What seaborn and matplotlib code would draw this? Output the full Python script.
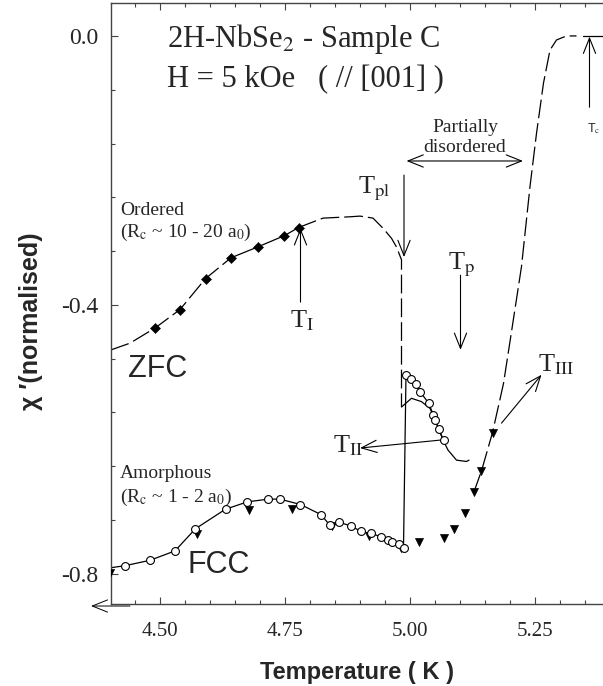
import numpy as np
import pandas as pd
import matplotlib
matplotlib.use("Agg")
import matplotlib.pyplot as plt
from matplotlib.ticker import MultipleLocator, FormatStrFormatter
import seaborn as sns

# ZFC data points (filled diamonds)
zfc_T = [4.491, 4.540, 4.591, 4.642, 4.695, 4.749, 4.777]
zfc_chi = [-0.434, -0.407, -0.361, -0.330, -0.314, -0.297, -0.285]

# ZFC dashed guide curve (left part, up to the peak-effect dip)
zfc_lo_T = [4.402, 4.440, 4.491, 4.540, 4.591, 4.642]
zfc_lo_chi = [-0.467, -0.457, -0.434, -0.407, -0.361, -0.330]
zfc_mid_T = [4.642, 4.695, 4.749, 4.777]
zfc_mid_chi = [-0.330, -0.314, -0.297, -0.285]
zfc_hi_T = [4.777, 4.826, 4.880, 4.900, 4.926, 4.946, 4.963, 4.973, 4.983, 4.983]
zfc_hi_chi = [-0.285, -0.271, -0.269, -0.268, -0.271, -0.286, -0.301, -0.314, -0.333, -0.552]

# ZFC measured wiggle after Tpl
zfc_dip_T = [4.983, 5.003, 5.023, 5.040, 5.053, 5.066, 5.076, 5.093, 5.113, 5.118]
zfc_dip_chi = [-0.552, -0.539, -0.544, -0.554, -0.576, -0.601, -0.616, -0.631, -0.633, -0.631]

# ZFC rise towards Tc
zfc_up_T = [5.128, 5.143, 5.165, 5.187, 5.203, 5.223, 5.240, 5.253, 5.267, 5.280, 5.293, 5.313, 5.333]
zfc_up_chi = [-0.678, -0.647, -0.590, -0.517, -0.440, -0.343, -0.224, -0.145, -0.070, -0.021, -0.006, 0.0, 0.0]
tc_T = [5.346, 5.386]
tc_chi = [0.0, 0.0]

# FCC open circles (lower branch)
fcc_T = [4.430, 4.480, 4.530, 4.571, 4.631, 4.675, 4.717, 4.740, 4.781, 4.822,
         4.840, 4.857, 4.882, 4.902, 4.921, 4.943, 4.955, 4.965, 4.977, 4.987]
fcc_chi = [-0.788, -0.780, -0.766, -0.733, -0.704, -0.693, -0.689, -0.689, -0.697, -0.712,
           -0.728, -0.723, -0.729, -0.737, -0.740, -0.745, -0.750, -0.753, -0.756, -0.761]
fcc_line_T = [4.402] + fcc_T
fcc_line_chi = [-0.791] + fcc_chi

# FCC open circles after the jump
fcc2_T = [4.992, 5.002, 5.012, 5.020, 5.037, 5.047, 5.050, 5.057, 5.067]
fcc2_chi = [-0.504, -0.511, -0.518, -0.529, -0.546, -0.564, -0.571, -0.584, -0.601]
jump_T = [4.987, 4.992]
jump_chi = [-0.761, -0.504]

# filled down triangles
tri_T = [4.401, 4.573, 4.678, 4.765, 4.843, 4.919, 4.983, 5.018, 5.067, 5.088,
         5.109, 5.128, 5.143, 5.165]
tri_chi = [-0.799, -0.741, -0.705, -0.703, -0.729, -0.744, -0.762, -0.753, -0.747, -0.733,
           -0.709, -0.678, -0.647, -0.590]

sns.set_theme(style="ticks")
plt.rcParams["mathtext.fontset"] = "stix"
plt.rcParams["font.family"] = ["Liberation Serif", "DejaVu Serif"]

fig = plt.figure(figsize=(6.03, 6.86), dpi=100)
ax = fig.add_axes([111 / 603, 82 / 686, 492 / 603, 601 / 686])

lw = 0.9
dash = (0, (15, 4))

def curve(T, chi, ls="-", w=lw):
    d = pd.DataFrame({"T": T, "chi": chi})
    sns.lineplot(data=d, x="T", y="chi", ax=ax, color="black", lw=w,
                 linestyle=ls, sort=False, estimator=None, zorder=2)

curve(zfc_lo_T, zfc_lo_chi, dash)
curve(zfc_mid_T, zfc_mid_chi)
curve(zfc_hi_T, zfc_hi_chi, dash)
curve(zfc_dip_T, zfc_dip_chi)
curve(zfc_up_T, zfc_up_chi, dash)
curve(tc_T, tc_chi)
curve(fcc_line_T, fcc_line_chi)
curve(fcc2_T, fcc2_chi)
curve(jump_T, jump_chi)

sns.scatterplot(x=zfc_T, y=zfc_chi, ax=ax, marker="D", s=26, color="black",
                edgecolor="black", zorder=4)
sns.scatterplot(x=tri_T, y=tri_chi, ax=ax, marker="v", s=34, color="black",
                edgecolor="black", zorder=3)
sns.scatterplot(x=fcc_T + fcc2_T, y=fcc_chi + fcc2_chi, ax=ax, marker="o", s=32,
                color="white", edgecolor="black", linewidth=0.8, zorder=5)

ax.set_xlim(4.402, 5.386)
ax.set_ylim(-0.845, 0.049)
ax.xaxis.set_major_locator(MultipleLocator(0.25))
ax.xaxis.set_minor_locator(MultipleLocator(0.05))
ax.yaxis.set_major_locator(MultipleLocator(0.4))
ax.yaxis.set_minor_locator(MultipleLocator(0.08))
ax.xaxis.set_major_formatter(FormatStrFormatter("%.2f"))
ax.yaxis.set_major_formatter(FormatStrFormatter("%.1f"))
ax.tick_params(which="both", direction="in", top=True, right=False, color="#444444",
               width=0.8, labelfontfamily="Liberation Serif")
ax.tick_params(which="major", length=5)
ax.tick_params(which="minor", length=3)
ax.tick_params(axis="x", which="major", labelsize=15, pad=13)
ax.tick_params(axis="y", which="major", labelsize=17, pad=9)
for s in ["left", "bottom", "top"]:
    ax.spines[s].set_color("#444444")
    ax.spines[s].set_linewidth(1.0)
ax.spines["right"].set_visible(False)

sans = ["Liberation Sans", "DejaVu Sans"]
ax.set_xlabel("Temperature ( K )", family=sans, fontweight="bold", fontsize=17, labelpad=14)
ax.set_ylabel("χ ′(normalised)", family=sans, fontweight="bold", fontsize=18)
ax.yaxis.set_label_coords(-0.138, 0.47)

# text labels
ax.text(4.514, -0.016, "2H-NbSe$_2$ - Sample C", fontsize=22, va="baseline")
ax.text(4.514, -0.077, "H = 5 kOe   ( // [001] )", fontsize=22, va="baseline")
ax.text(4.42, -0.266, "Ordered", fontsize=14, va="baseline")
ax.text(4.42, -0.299, "(R$_\\mathrm{c}$ ~ 10 - 20 a$_0$)", fontsize=14, va="baseline")
ax.text(4.42, -0.658, "Amorphous", fontsize=14, va="baseline")
ax.text(4.42, -0.693, "(R$_\\mathrm{c}$ ~ 1 - 2 a$_0$)", fontsize=14, va="baseline")
ax.text(4.436, -0.507, "ZFC", family=sans, fontsize=22, va="baseline")
ax.text(4.556, -0.799, "FCC", family=sans, fontsize=22, va="baseline")
ax.text(5.11, -0.143, "Partially", fontsize=14, ha="center", va="baseline")
ax.text(5.11, -0.172, "disordered", fontsize=14, ha="center", va="baseline")
ax.text(4.76, -0.433, "T$_\\mathrm{I}$", fontsize=19, va="baseline")
ax.text(4.896, -0.234, "T$_\\mathrm{pl}$", fontsize=19, va="baseline")
ax.text(5.076, -0.348, "T$_\\mathrm{p}$", fontsize=19, va="baseline")
ax.text(4.846, -0.620, "T$_\\mathrm{II}$", fontsize=19, va="baseline")
ax.text(5.256, -0.4995, "T$_\\mathrm{III}$", fontsize=19, va="baseline")
ax.text(5.354, -0.143, "T$_\\mathrm{c}$", family=sans, fontsize=9, va="baseline")

arr = dict(arrowstyle="->,head_length=0.55,head_width=0.22", color="black",
           lw=0.8, mutation_scale=20, shrinkA=0, shrinkB=0)
ax.annotate("", xy=(4.781, -0.286), xytext=(4.781, -0.396), arrowprops=arr)
ax.annotate("", xy=(4.988, -0.329), xytext=(4.988, -0.207), arrowprops=arr)
ax.annotate("", xy=(5.101, -0.467), xytext=(5.101, -0.356), arrowprops=arr)
ax.annotate("", xy=(4.900, -0.613), xytext=(5.063, -0.601), arrowprops=arr)
ax.annotate("", xy=(5.263, -0.504), xytext=(5.183, -0.576), arrowprops=arr)
ax.annotate("", xy=(5.359, -0.001), xytext=(5.359, -0.106), arrowprops=arr)
ax.annotate("", xy=(4.993, -0.186), xytext=(5.226, -0.186),
            arrowprops=dict(arr, arrowstyle="<->,head_length=0.55,head_width=0.22"))
ax.annotate("", xy=(4.362, -0.848), xytext=(4.44, -0.848), arrowprops=dict(arr, lw=0.7),
            annotation_clip=False)

fig.savefig("out.png", dpi=100)
